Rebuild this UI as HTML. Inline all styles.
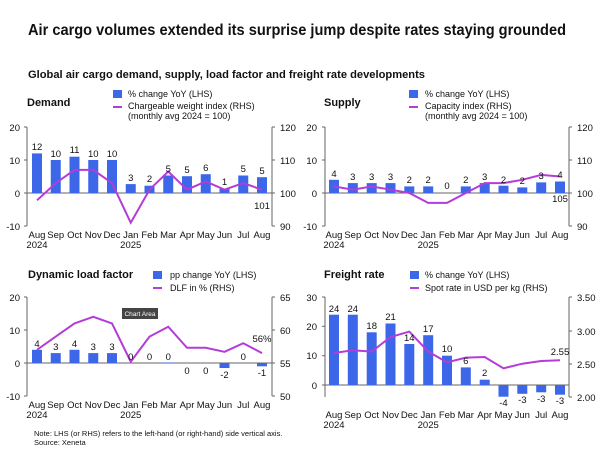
<!DOCTYPE html><html><head><meta charset="utf-8"><style>
body{margin:0;background:#fff}svg{display:block}
text{font-family:"Liberation Sans",sans-serif;fill:#111}
.t{font-size:9.5px}.b{font-weight:bold}.v{font-size:9.5px;text-anchor:middle}.l{font-size:9px}
.ax{stroke:#666;stroke-width:1}.bar{fill:#3b67e8}.ln{fill:none;stroke:#b43cd8;stroke-width:2}
</style></head><body>
<svg width="600" height="451" viewBox="0 0 600 451">
<text x="28" y="35" font-size="15.5" class="b" textLength="538" lengthAdjust="spacingAndGlyphs">Air cargo volumes extended its surprise jump despite rates staying grounded</text>
<text x="28" y="78" font-size="11" class="b" textLength="397" lengthAdjust="spacingAndGlyphs">Global air cargo demand, supply, load factor and freight rate developments</text>

<!-- DEMAND -->
<text x="27" y="106" font-size="11" class="b">Demand</text>
<rect x="113" y="90" width="9" height="8" class="bar"/><text x="128" y="97" class="l">% change YoY (LHS)</text>
<line x1="113" y1="107" x2="122" y2="107" class="ln"/><text x="128" y="109" class="l">Chargeable weight index (RHS)</text><text x="128" y="119" class="l">(monthly avg 2024 = 100)</text>
<g class="ax"><line x1="27" y1="127" x2="27" y2="226"/><line x1="272" y1="127" x2="272" y2="226"/><line x1="27" y1="193" x2="272" y2="193"/>
<line x1="24" y1="127" x2="27" y2="127"/><line x1="24" y1="160" x2="27" y2="160"/><line x1="24" y1="193" x2="27" y2="193"/><line x1="24" y1="226" x2="27" y2="226"/>
<line x1="272" y1="127" x2="275" y2="127"/><line x1="272" y1="160" x2="275" y2="160"/><line x1="272" y1="193" x2="275" y2="193"/><line x1="272" y1="226" x2="275" y2="226"/></g>
<g class="t" text-anchor="end"><text x="20" y="131">20</text><text x="20" y="164">10</text><text x="20" y="197">0</text><text x="20" y="230">-10</text></g>
<g class="t"><text x="280" y="131">120</text><text x="280" y="164">110</text><text x="280" y="197">100</text><text x="280" y="230">90</text></g>
<g class="bar"><rect x="32" y="153.4" width="10" height="39.6"/><rect x="50.75" y="160" width="10" height="33"/><rect x="69.5" y="156.7" width="10" height="36.3"/><rect x="88.25" y="160" width="10" height="33"/><rect x="107" y="160" width="10" height="33"/><rect x="125.75" y="184.1" width="10" height="8.9"/><rect x="144.5" y="185.7" width="10" height="7.3"/><rect x="163.25" y="175.5" width="10" height="17.5"/><rect x="182" y="176.2" width="10" height="16.8"/><rect x="200.75" y="174.2" width="10" height="18.8"/><rect x="219.5" y="188.7" width="10" height="4.3"/><rect x="238.25" y="175.5" width="10" height="17.5"/><rect x="257" y="177.2" width="10" height="15.8"/></g>
<polyline class="ln" points="37,200.3 55.75,183.1 74.5,169.9 93.25,169.9 112,183.1 130.75,222.7 149.5,189.7 168.25,171.5 187,189.7 205.75,181.5 224.5,189.7 243.25,183.1 262,189.7"/>
<g class="v"><text x="37" y="150">12</text><text x="55.75" y="157">10</text><text x="74.5" y="153">11</text><text x="93.25" y="157">10</text><text x="112" y="157">10</text><text x="130.75" y="181">3</text><text x="149.5" y="182">2</text><text x="168.25" y="172">5</text><text x="187" y="173">5</text><text x="205.75" y="171">6</text><text x="224.5" y="185">1</text><text x="243.25" y="172">5</text><text x="262" y="174">5</text><text x="262" y="209">101</text></g>
<g class="v"><text x="37" y="238">Aug</text><text x="55.75" y="238">Sep</text><text x="74.5" y="238">Oct</text><text x="93.25" y="238">Nov</text><text x="112" y="238">Dec</text><text x="130.75" y="238">Jan</text><text x="149.5" y="238">Feb</text><text x="168.25" y="238">Mar</text><text x="187" y="238">Apr</text><text x="205.75" y="238">May</text><text x="224.5" y="238">Jun</text><text x="243.25" y="238">Jul</text><text x="262" y="238">Aug</text><text x="37" y="248">2024</text><text x="130.75" y="248">2025</text></g>

<!-- SUPPLY -->
<text x="324" y="106" font-size="11" class="b">Supply</text>
<rect x="409" y="90" width="9" height="8" class="bar"/><text x="425" y="97" class="l">% change YoY (LHS)</text>
<line x1="409" y1="107" x2="418" y2="107" class="ln"/><text x="425" y="109" class="l">Capacity index (RHS)</text><text x="425" y="119" class="l">(monthly avg 2024 = 100)</text>
<g class="ax"><line x1="325" y1="127" x2="325" y2="226"/><line x1="569" y1="127" x2="569" y2="226"/><line x1="325" y1="193" x2="569" y2="193"/>
<line x1="322" y1="127" x2="325" y2="127"/><line x1="322" y1="160" x2="325" y2="160"/><line x1="322" y1="193" x2="325" y2="193"/><line x1="322" y1="226" x2="325" y2="226"/>
<line x1="569" y1="127" x2="572" y2="127"/><line x1="569" y1="160" x2="572" y2="160"/><line x1="569" y1="193" x2="572" y2="193"/><line x1="569" y1="226" x2="572" y2="226"/></g>
<g class="t" text-anchor="end"><text x="317" y="131">20</text><text x="317" y="164">10</text><text x="317" y="197">0</text><text x="317" y="230">-10</text></g>
<g class="t"><text x="577" y="131">120</text><text x="577" y="164">110</text><text x="577" y="197">100</text><text x="577" y="230">90</text></g>
<g class="bar"><rect x="329" y="179.8" width="10" height="13.2"/><rect x="347.8" y="183.1" width="10" height="9.9"/><rect x="366.7" y="183.1" width="10" height="9.9"/><rect x="385.5" y="183.1" width="10" height="9.9"/><rect x="404.3" y="186.4" width="10" height="6.6"/><rect x="423.2" y="186.4" width="10" height="6.6"/><rect x="460.8" y="186.4" width="10" height="6.6"/><rect x="479.7" y="183.1" width="10" height="9.9"/><rect x="498.5" y="185.7" width="10" height="7.3"/><rect x="517.3" y="187.4" width="10" height="5.6"/><rect x="536.2" y="182.4" width="10" height="10.6"/><rect x="555" y="181.5" width="10" height="11.5"/></g>
<polyline class="ln" points="334,186.4 352.8,189.7 371.7,186.4 390.5,189.7 409.3,193 428.2,202.9 447,202.9 465.8,193 484.7,183.1 503.5,183.1 522.3,179.8 541.2,174.9 560,176.5"/>
<g class="v"><text x="334" y="177">4</text><text x="352.8" y="180">3</text><text x="371.7" y="180">3</text><text x="390.5" y="180">3</text><text x="409.3" y="183">2</text><text x="428.2" y="183">2</text><text x="447" y="189">0</text><text x="465.8" y="183">2</text><text x="484.7" y="180">3</text><text x="503.5" y="183">2</text><text x="522.3" y="184">2</text><text x="541.2" y="179">3</text><text x="560" y="178">4</text><text x="560" y="202">105</text></g>
<g class="v"><text x="334" y="238">Aug</text><text x="352.8" y="238">Sep</text><text x="371.7" y="238">Oct</text><text x="390.5" y="238">Nov</text><text x="409.3" y="238">Dec</text><text x="428.2" y="238">Jan</text><text x="447" y="238">Feb</text><text x="465.8" y="238">Mar</text><text x="484.7" y="238">Apr</text><text x="503.5" y="238">May</text><text x="522.3" y="238">Jun</text><text x="541.2" y="238">Jul</text><text x="560" y="238">Aug</text><text x="334" y="248">2024</text><text x="428.2" y="248">2025</text></g>

<!-- DLF -->
<text x="28" y="278" font-size="11" class="b">Dynamic load factor</text>
<rect x="153" y="271" width="9" height="8" class="bar"/><text x="170" y="278" class="l">pp change YoY (LHS)</text>
<line x1="153" y1="288" x2="162" y2="288" class="ln"/><text x="170" y="291" class="l">DLF in % (RHS)</text>
<g class="ax"><line x1="27" y1="297" x2="27" y2="396"/><line x1="272" y1="297" x2="272" y2="396"/><line x1="27" y1="363" x2="272" y2="363"/>
<line x1="24" y1="297" x2="27" y2="297"/><line x1="24" y1="330" x2="27" y2="330"/><line x1="24" y1="363" x2="27" y2="363"/><line x1="24" y1="396" x2="27" y2="396"/>
<line x1="272" y1="297" x2="275" y2="297"/><line x1="272" y1="330" x2="275" y2="330"/><line x1="272" y1="363" x2="275" y2="363"/><line x1="272" y1="396" x2="275" y2="396"/></g>
<g class="t" text-anchor="end"><text x="20" y="301">20</text><text x="20" y="334">10</text><text x="20" y="367">0</text><text x="20" y="400">-10</text></g>
<g class="t"><text x="280" y="301">65</text><text x="280" y="334">60</text><text x="280" y="367">55</text><text x="280" y="400">50</text></g>
<g class="bar"><rect x="32" y="349.8" width="10" height="13.2"/><rect x="50.75" y="353.1" width="10" height="9.9"/><rect x="69.5" y="349.8" width="10" height="13.2"/><rect x="88.25" y="353.1" width="10" height="9.9"/><rect x="107" y="353.1" width="10" height="9.9"/><rect x="163.25" y="362.5" width="10" height="0.5"/><rect x="219.5" y="363" width="10" height="5"/><rect x="257" y="363" width="10" height="3.3"/></g>
<polyline class="ln" points="37,349.8 55.75,336.6 74.5,323.4 93.25,316.8 112,323.4 130.75,361.7 149.5,336.6 168.25,326.7 187,347.8 205.75,347.8 224.5,351.8 243.25,343.2 262,353.1"/>
<g class="v"><text x="37" y="347">4</text><text x="55.75" y="350">3</text><text x="74.5" y="347">4</text><text x="93.25" y="350">3</text><text x="112" y="350">3</text><text x="130.75" y="360">0</text><text x="149.5" y="360">0</text><text x="168.25" y="360">0</text><text x="187" y="374">0</text><text x="205.75" y="374">0</text><text x="224.5" y="378">-2</text><text x="243.25" y="360">0</text><text x="262" y="376">-1</text><text x="262" y="342">56%</text></g>
<rect x="122" y="308" width="36" height="11" fill="#444"/><text x="140" y="316" font-size="6.5" text-anchor="middle" style="fill:#fff">Chart Area</text>
<g class="v"><text x="37" y="408">Aug</text><text x="55.75" y="408">Sep</text><text x="74.5" y="408">Oct</text><text x="93.25" y="408">Nov</text><text x="112" y="408">Dec</text><text x="130.75" y="408">Jan</text><text x="149.5" y="408">Feb</text><text x="168.25" y="408">Mar</text><text x="187" y="408">Apr</text><text x="205.75" y="408">May</text><text x="224.5" y="408">Jun</text><text x="243.25" y="408">Jul</text><text x="262" y="408">Aug</text><text x="37" y="418">2024</text><text x="130.75" y="418">2025</text></g>

<!-- FREIGHT -->
<text x="324" y="278" font-size="11" class="b">Freight rate</text>
<rect x="410" y="271" width="9" height="8" class="bar"/><text x="425" y="278" class="l">% change YoY (LHS)</text>
<line x1="410" y1="288" x2="419" y2="288" class="ln"/><text x="425" y="291" class="l">Spot rate in USD per kg (RHS)</text>
<g class="ax"><line x1="325" y1="297" x2="325" y2="397"/><line x1="569" y1="297" x2="569" y2="397"/><line x1="325" y1="385" x2="569" y2="385"/>
<line x1="322" y1="297" x2="325" y2="297"/><line x1="322" y1="326.3" x2="325" y2="326.3"/><line x1="322" y1="355.7" x2="325" y2="355.7"/><line x1="322" y1="385" x2="325" y2="385"/>
<line x1="569" y1="297" x2="572" y2="297"/><line x1="569" y1="331" x2="572" y2="331"/><line x1="569" y1="364" x2="572" y2="364"/><line x1="569" y1="397" x2="572" y2="397"/></g>
<g class="t" text-anchor="end"><text x="317" y="301">30</text><text x="317" y="330">20</text><text x="317" y="359">10</text><text x="317" y="389">0</text></g>
<g class="t"><text x="577" y="301">3.50</text><text x="577" y="335">3.00</text><text x="577" y="368">2.50</text><text x="577" y="401">2.00</text></g>
<g class="bar"><rect x="329" y="314.7" width="10" height="70.3"/><rect x="347.8" y="314.7" width="10" height="70.3"/><rect x="366.7" y="332.3" width="10" height="52.7"/><rect x="385.5" y="323.5" width="10" height="61.5"/><rect x="404.3" y="344" width="10" height="41"/><rect x="423.2" y="335.2" width="10" height="49.8"/><rect x="442" y="355.7" width="10" height="29.3"/><rect x="460.8" y="367.4" width="10" height="17.6"/><rect x="479.7" y="379.7" width="10" height="5.3"/><rect x="498.5" y="385" width="10" height="11.7"/><rect x="517.3" y="385" width="10" height="8.8"/><rect x="536.2" y="385" width="10" height="7.3"/><rect x="555" y="385" width="10" height="9.7"/></g>
<polyline class="ln" points="334,353 352.8,350.3 371.7,351.6 390.5,337 409.3,331.6 428.2,351.6 447,362.3 465.8,357.6 484.7,357 503.5,368.3 522.3,363.7 541.2,361 560,360.3"/>
<g class="v"><text x="334" y="312">24</text><text x="352.8" y="312">24</text><text x="371.7" y="329">18</text><text x="390.5" y="320">21</text><text x="409.3" y="341">14</text><text x="428.2" y="332">17</text><text x="447" y="352">10</text><text x="465.8" y="364">6</text><text x="484.7" y="376">2</text><text x="503.5" y="406">-4</text><text x="522.3" y="403">-3</text><text x="541.2" y="402">-3</text><text x="560" y="404">-3</text><text x="560" y="355">2.55</text></g>
<g class="v"><text x="334" y="418">Aug</text><text x="352.8" y="418">Sep</text><text x="371.7" y="418">Oct</text><text x="390.5" y="418">Nov</text><text x="409.3" y="418">Dec</text><text x="428.2" y="418">Jan</text><text x="447" y="418">Feb</text><text x="465.8" y="418">Mar</text><text x="484.7" y="418">Apr</text><text x="503.5" y="418">May</text><text x="522.3" y="418">Jun</text><text x="541.2" y="418">Jul</text><text x="560" y="418">Aug</text><text x="334" y="428">2024</text><text x="428.2" y="428">2025</text></g>

<text x="34" y="436" font-size="7.5">Note: LHS (or RHS) refers to the left-hand (or right-hand) side vertical axis.</text>
<text x="34" y="445" font-size="7.5">Source: Xeneta</text>
</svg></body></html>
